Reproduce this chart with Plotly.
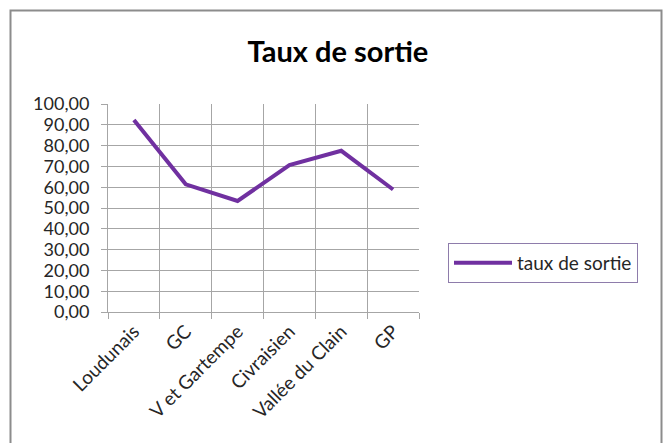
import plotly.graph_objects as go

categories = ["Loudunais", "GC", "V et Gartempe", "Civraisien", "Vallée du Clain", "GP"]
taux_de_sortie = [92.3, 61.4, 53.4, 70.6, 77.5, 58.9]
series_name = "taux de sortie"
title_text = "Taux de sortie"

FONT = "Lato, 'Open Sans', 'Liberation Sans', sans-serif"
GRID = "#a6a6a6"
TXT = "#262626"

fig = go.Figure()
fig.add_trace(go.Scatter(
    x=categories, y=taux_de_sortie, mode="lines", name=series_name,
    line=dict(color="#7030A0", width=4),
))

fig.update_layout(
    width=664, height=443,
    paper_bgcolor="white", plot_bgcolor="white",
    margin=dict(l=108, r=245, t=104, b=131),
    font=dict(family=FONT, size=18, color=TXT),
    separators=",.",
    title=dict(text="<b>" + title_text + "</b>", x=0.509, xanchor="center",
               y=1 - 52 / 443, yanchor="middle",
               font=dict(family=FONT, size=29, color="#000000")),
    showlegend=True,
    legend=dict(x=(448 - 108) / 311, xanchor="left", y=(312 - 243) / 208, yanchor="top",
                bordercolor="#8e7cab", borderwidth=1, bgcolor="white",
                font=dict(size=19, color=TXT), itemwidth=58,
                entrywidth=200, tracegroupgap=0),
    xaxis=dict(
        type="category", range=[-0.5, 5.5], tickson="boundaries", showgrid=True,
        gridcolor=GRID, gridwidth=1, automargin=False,
        ticks="outside", ticklen=6, tickcolor=GRID, tickangle=-45,
        showline=True, linecolor=GRID, linewidth=1, mirror=False,
        zeroline=False, tickfont=dict(size=19, color=TXT),
    ),
    yaxis=dict(
        range=[0, 100], dtick=10, tickformat=".2f", showgrid=True, gridcolor=GRID,
        automargin=False,
        ticks="outside", ticklen=6, tickcolor=GRID, ticklabelstandoff=8,
        showline=True, linecolor=GRID, linewidth=1, zeroline=False,
        tickfont=dict(size=18, color=TXT),
    ),
    shapes=[dict(type="rect", xref="paper", yref="paper",
                 x0=-97.5 / 311, x1=553.5 / 311, y0=-140 / 208, y1=301.5 / 208,
                 line=dict(color="#8c8c8c", width=2), fillcolor="rgba(0,0,0,0)",
                 layer="below")],
)
fig.write_html("out.html", config={"displayModeBar": False},
               post_script="document.body.style.margin='0';"
               "document.body.style.overflow='hidden';")
